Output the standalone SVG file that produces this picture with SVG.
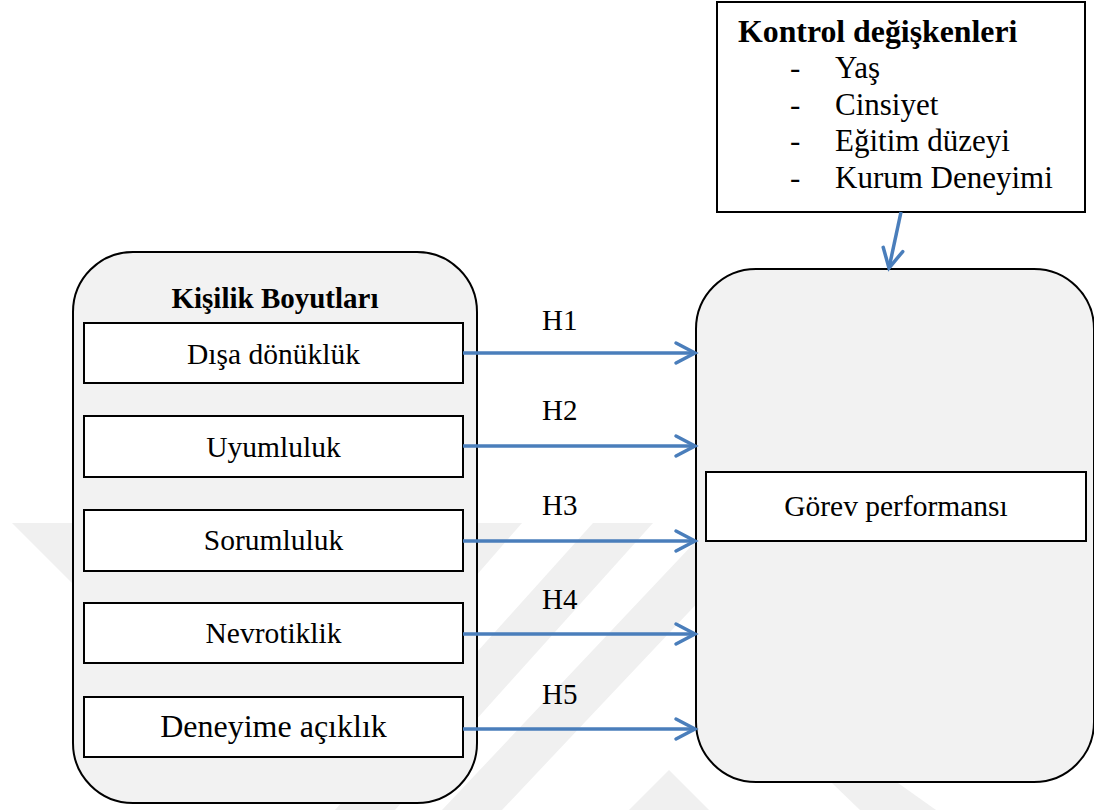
<svg xmlns="http://www.w3.org/2000/svg" width="1094" height="810" viewBox="0 0 1094 810">
  <defs>
    <style>
      .b { font-weight: bold; }
      .box { fill: #fff; stroke: #000; stroke-width: 2; }
      .group { fill: #f2f2f2; stroke: #000; stroke-width: 2; }
      .wm { fill: #f0f0f0; stroke: none; }
      .conn { fill: none; stroke: #4a7ebb; stroke-width: 3.5; marker-end: url(#arr); }
    </style>
    <marker id="arr" markerUnits="userSpaceOnUse" markerWidth="40" markerHeight="40" refX="0" refY="0" orient="auto" overflow="visible">
      <path d="M-19,-10 L0,0 L-19,10" fill="none" stroke="#4a7ebb" stroke-width="3.5" stroke-linecap="round" stroke-linejoin="miter"/>
    </marker>
  </defs>

  <rect x="0" y="0" width="1094" height="810" fill="#fff"/>

  <g id="watermark">
    <polygon class="wm" points="12,523 80,523 80,591"/>
    <polygon class="wm" points="475,523 522,523 475,577"/>
    <polygon class="wm" points="593,523 653,523 395,810 335,810"/>
    <polygon class="wm" points="713,523 773,523 502,810 442,810"/>
    <polygon class="wm" points="669,770 709,810 629,810"/>
    <polygon class="wm" points="832,783 898,783 936,810 860,810"/>
  </g>

  <g font-family="'Liberation Serif', 'Times New Roman', 'DejaVu Serif', serif" fill="#000">
  <g id="kontrol">
    <rect class="box" x="717" y="2" width="368" height="210"/>
    <text class="b" x="738" y="42" font-size="31.8">Kontrol değişkenleri</text>
    <text x="790" y="78" font-size="31">-</text>
    <text x="835" y="78" font-size="31">Yaş</text>
    <text x="790" y="115" font-size="31">-</text>
    <text x="835" y="115" font-size="31">Cinsiyet</text>
    <text x="790" y="151" font-size="31">-</text>
    <text x="835" y="151" font-size="31">Eğitim düzeyi</text>
    <text x="790" y="188" font-size="31">-</text>
    <text x="835" y="188" font-size="31">Kurum Deneyimi</text>
  </g>

  <g id="kisilik">
    <rect class="group" x="73" y="252" width="404" height="551" rx="60" ry="60"/>
    <text class="b" x="275" y="308" font-size="29" text-anchor="middle">Kişilik Boyutları</text>
  </g>
  <g id="disa">
    <rect class="box" x="84" y="323" width="379" height="60"/>
    <text x="273.5" y="364" font-size="29.5" text-anchor="middle">Dışa dönüklük</text>
  </g>
  <g id="uyum">
    <rect class="box" x="84" y="416" width="379" height="61"/>
    <text x="273.5" y="457" font-size="29.5" text-anchor="middle">Uyumluluk</text>
  </g>
  <g id="sorum">
    <rect class="box" x="84" y="510" width="379" height="61"/>
    <text x="273.5" y="550" font-size="29.5" text-anchor="middle">Sorumluluk</text>
  </g>
  <g id="nevro">
    <rect class="box" x="84" y="603" width="379" height="60"/>
    <text x="273.5" y="643" font-size="29.5" text-anchor="middle">Nevrotiklik</text>
  </g>
  <g id="deneyim">
    <rect class="box" x="84" y="697" width="379" height="60"/>
    <text x="273.5" y="737" font-size="32" text-anchor="middle">Deneyime açıklık</text>
  </g>

  <g id="gorev-grup">
    <rect class="group" x="696" y="269" width="398" height="513" rx="60" ry="60"/>
  </g>
  <g id="gorev">
    <rect class="box" x="706" y="472" width="380" height="69"/>
    <text x="896" y="516" font-size="29.5" text-anchor="middle">Görev performansı</text>
  </g>

  <g id="labels">
    <text x="542" y="330" font-size="29">H1</text>
    <text x="542" y="420" font-size="29">H2</text>
    <text x="542" y="515" font-size="29">H3</text>
    <text x="542" y="609" font-size="29">H4</text>
    <text x="542" y="704" font-size="29">H5</text>
  </g>
  </g>

  <g id="connectors">
    <path class="conn" d="M463,353 L695,353"/>
    <path class="conn" d="M463,446 L695,446"/>
    <path class="conn" d="M463,541 L695,541"/>
    <path class="conn" d="M463,634 L695,634"/>
    <path class="conn" d="M463,729 L695,729"/>
    <path class="conn" d="M901,212 L889,268"/>
  </g>
</svg>
